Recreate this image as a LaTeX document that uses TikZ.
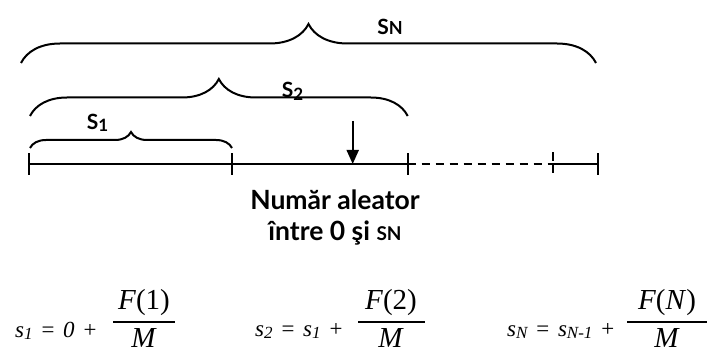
\documentclass[tikz,border=0pt]{standalone}
\usepackage{fontspec}
\setmainfont{Liberation Serif}
\newfontfamily\lblfont{Lato}
\usepackage{tikz}
\usetikzlibrary{arrows.meta,decorations.pathreplacing,positioning}
\newcommand{\ssub}[1]{\raisebox{-2.5pt}{\fontsize{17}{17}\selectfont #1}}
\newcommand{\gap}{\hspace{7.5pt}}
\tikzset{
  brc/.style={decorate,decoration={brace,amplitude=#1},line width=2pt},
  tick/.style={line width=2pt},
  lbl/.style={font=\lblfont\bfseries\fontsize{21}{21}\selectfont,inner sep=0pt},
  eqn/.style={font=\itshape\fontsize{23}{23}\selectfont,inner sep=0pt,anchor=west},
  frac/.style={font=\fontsize{29}{29}\selectfont,inner sep=0pt}
}
\begin{document}
\begin{tikzpicture}[x=1pt,y=-1pt,>=Latex]
  \useasboundingbox (0,0) rectangle (709,355);
  \coordinate (t0) at (29,164);
  \coordinate (t1) at (232,164);
  \coordinate (t2) at (407.7,164);
  \coordinate (t3) at (552.7,164);
  \coordinate (t4) at (598,164);
  \draw[line width=2pt] (t0) -- (t2);
  \draw[line width=2pt,dash pattern=on 8pt off 6pt] (t2) -- (t3);
  \draw[line width=2pt] (t3) -- (t4);
  \foreach \t in {t0,t1,t2,t4}
    \draw[tick] ([yshift=-11pt]\t) -- ([yshift=11pt]\t);
  \draw[tick,dash pattern=on 9pt off 3pt] ([yshift=-9pt]t3) -- ([yshift=12pt]t3);
  \draw[brc=16pt] (30,148) -- (232,148);
  \draw[brc=37pt] (30,116) -- (407.7,116);
  \draw[brc=39pt] (21,63) -- (596,63);
  \node[lbl] (s1) at (97.5,123) {S\ssub{1}};
  \node[lbl] (s2) at (292.5,91.5) {S\ssub{2}};
  \node[lbl] (sN) at (390,27) {S{\fontsize{18}{18}\selectfont N}};
  \coordinate (r) at (352.7,121);
  \draw[line width=2pt,-{Triangle[length=14pt,width=12pt]}] (r) -- (r |- t0);
  \node[font=\lblfont\bfseries\fontsize{26.5}{31}\selectfont,align=center] (txt) at (335,217.5)
    {Număr aleator\\între 0 şi {\fontsize{19}{19}\selectfont SN}};
  \node[eqn] (e1) at (15,331) {s\ssub{1}\gap=\gap0\gap+};
  \node[frac] (n1) at (144,303) {\textit{F}(1)};
  \node[frac] (d1) at (144,338) {\textit{M}};
  \draw[line width=1.8pt] (113,322) -- (175,322);
  \node[eqn] (e2) at (255,331) {s\ssub{2}\gap=\gap s\ssub{1}\gap+};
  \node[frac] (n2) at (391,303) {\textit{F}(2)};
  \node[frac] (d2) at (391,338) {\textit{M}};
  \draw[line width=1.8pt] (358,322) -- (425,322);
  \node[eqn] (e3) at (507,331) {s\ssub{N}\gap=\gap s\ssub{N-1}\gap+};
  \node[frac] (n3) at (667,303) {\textit{F}(\textit{N})};
  \node[frac] (d3) at (667,338) {\textit{M}};
  \draw[line width=1.8pt] (627,322) -- (707,322);
\end{tikzpicture}
\end{document}
